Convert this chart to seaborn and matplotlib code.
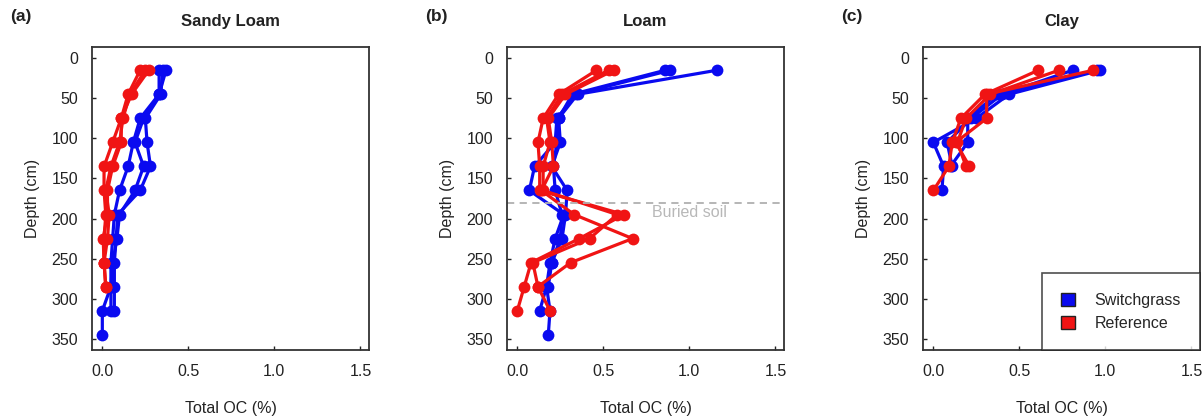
import numpy as np
import pandas as pd
import matplotlib
matplotlib.use("Agg")
import matplotlib.pyplot as plt
import seaborn as sns
from matplotlib.patches import Patch

sns.set_theme(style="white")
plt.rcParams['font.family'] = ['Liberation Sans', 'DejaVu Sans']

depths = [15, 45, 75, 105, 135, 165, 195, 225, 255, 285, 315, 345]

# Sandy Loam
sl_sw_1 = [0.33, 0.33, 0.22, 0.18, 0.15, 0.10, 0.07, 0.06, 0.05, 0.05, 0.00, 0.00]
sl_sw_2 = [0.35, 0.34, 0.25, 0.26, 0.28, 0.22, 0.09, 0.08, 0.07, 0.07, 0.07]
sl_sw_3 = [0.37, 0.33, 0.24, 0.19, 0.24, 0.19, 0.10, 0.085, 0.06, 0.05, 0.05]
sl_ref_1 = [0.22, 0.15, 0.11, 0.06, 0.01, 0.01, 0.02, 0.01, 0.01, 0.02]
sl_ref_2 = [0.25, 0.16, 0.12, 0.10, 0.05, 0.02, 0.04, 0.03, 0.01, 0.02]
sl_ref_3 = [0.27, 0.17, 0.11, 0.11, 0.06, 0.03, 0.03, 0.005, 0.01]

# Loam
lo_sw_1 = [1.16, 0.35, 0.24, 0.25, 0.20, 0.29, 0.28, 0.26, 0.20, 0.17, 0.19, 0.18]
lo_sw_2 = [0.89, 0.34, 0.23, 0.22, 0.10, 0.07, 0.27, 0.22, 0.19, 0.17, 0.13]
lo_sw_3 = [0.86, 0.32, 0.24, 0.23, 0.21, 0.22, 0.26, 0.25, 0.20, 0.18]
lo_ref_1 = [0.46, 0.24, 0.15, 0.12, 0.13, 0.13, 0.62, 0.36, 0.08, 0.04, 0.00]
lo_ref_2 = [0.53, 0.26, 0.17, 0.19, 0.15, 0.15, 0.58, 0.42, 0.09, 0.12, 0.19]
lo_ref_3 = [0.56, 0.28, 0.18, 0.20, 0.21, 0.14, 0.33, 0.67, 0.31, 0.12]

# Clay
cl_sw_1 = [0.97, 0.44, 0.25, 0.00, 0.06, 0.05]
cl_sw_2 = [0.81, 0.40, 0.22, 0.08, 0.11]
cl_sw_3 = [0.95, 0.37, 0.20, 0.20, 0.10]
cl_ref_1 = [0.61, 0.30, 0.16, 0.11, 0.09, 0.00]
cl_ref_2 = [0.73, 0.33, 0.19, 0.14, 0.19]
cl_ref_3 = [0.93, 0.31, 0.31, 0.13, 0.21]

panels = [
    ("(a)", "Sandy Loam", [sl_sw_1, sl_sw_2, sl_sw_3], [sl_ref_1, sl_ref_2, sl_ref_3]),
    ("(b)", "Loam", [lo_sw_1, lo_sw_2, lo_sw_3], [lo_ref_1, lo_ref_2, lo_ref_3]),
    ("(c)", "Clay", [cl_sw_1, cl_sw_2, cl_sw_3], [cl_ref_1, cl_ref_2, cl_ref_3]),
]

buried_depth = 180
colors = {"Switchgrass": "#0a0af0", "Reference": "#f01414"}

fig = plt.figure(figsize=(12.04, 4.19), dpi=100)
lefts = [92, 507, 923]
W, H = 1204, 419
for i, (lab, title, sw, ref) in enumerate(panels):
    ax = fig.add_axes([lefts[i] / W, 1 - 350 / H, 277 / W, 303 / H])
    rows = []
    for k, s in enumerate(sw):
        for d, v in zip(depths, s):
            rows.append(dict(oc=v, depth=d, trt="Switchgrass", unit=f"s{k}"))
    for k, s in enumerate(ref):
        for d, v in zip(depths, s):
            rows.append(dict(oc=v, depth=d, trt="Reference", unit=f"r{k}"))
    df = pd.DataFrame(rows)
    sns.lineplot(data=df, x="oc", y="depth", hue="trt", units="unit",
                 estimator=None, sort=False, palette=colors, marker="o",
                 markersize=8.5, markeredgewidth=0, linewidth=2.3,
                 legend=False, ax=ax)
    ax.set_xlim(-0.06, 1.55)
    ax.set_ylim(364, -14)
    ax.set_xticks([0.0, 0.5, 1.0, 1.5])
    ax.set_xticklabels(["0.0", "0.5", "1.0", "1.5"])
    ax.set_yticks(range(0, 351, 50))
    ax.tick_params(direction="in", length=3, width=1, labelsize=11.5,
                   colors="#222222", pad=10, left=True, bottom=True)
    for sp in ax.spines.values():
        sp.set_color("#333333")
        sp.set_linewidth(1.3)
    ax.set_xlabel("Total OC (%)", fontsize=11.5, color="#222222", labelpad=16)
    ax.set_ylabel("Depth (cm)", fontsize=11.5, color="#222222", labelpad=8)
    ax.set_title(title, fontsize=12, fontweight="bold", color="#222222", pad=15)
    fig.text((lefts[i] - 82) / W, 1 - 17 / H, lab, fontsize=12.5,
             fontweight="bold", color="#222222", va="center")
    if i == 1:
        ax.axhline(buried_depth, color="#b0b0b0", linestyle=(0, (4, 3)), linewidth=1.3)
        ax.text(1.0, buried_depth + 12, "Buried soil", color="#b8b8b8",
                fontsize=11.5, ha="center", va="center")
    if i == 2:
        handles = [Patch(facecolor=colors["Switchgrass"], edgecolor="#222222", label="Switchgrass"),
                   Patch(facecolor=colors["Reference"], edgecolor="#222222", label="Reference")]
        leg = ax.legend(handles=handles, loc="lower right", borderaxespad=0,
                        fontsize=11.5, frameon=True, fancybox=False,
                        handlelength=0.9, handleheight=0.9, handletextpad=1.2,
                        borderpad=1.2, labelspacing=0.5)
        leg.get_frame().set_edgecolor("#222222")
        leg.get_frame().set_linewidth(1.2)

fig.savefig("out.png", dpi=100, facecolor="white")
